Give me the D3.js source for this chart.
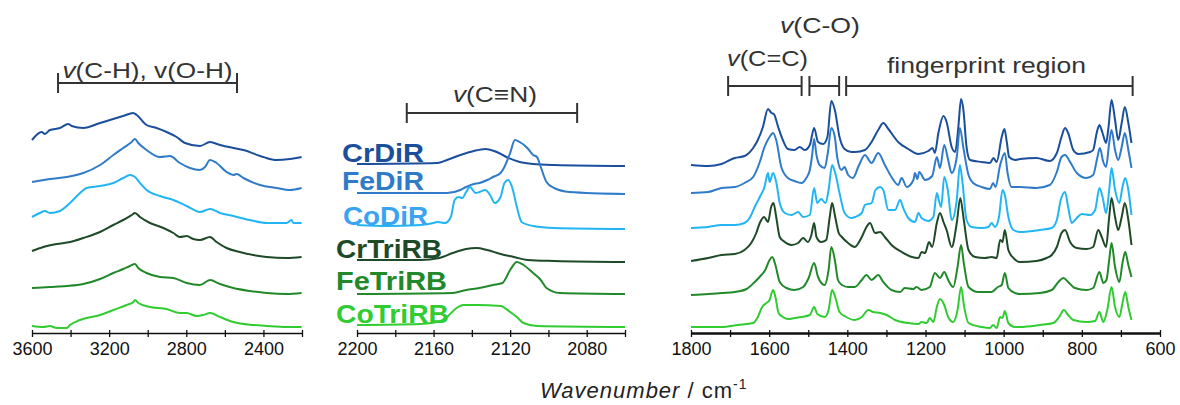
<!DOCTYPE html>
<html>
<head>
<meta charset="utf-8">
<script src="https://d3js.org/d3.v7.min.js"></script>
<style>
    body { margin: 0; background: #fff; }
    svg { font-family: "Liberation Sans", Arial, sans-serif; }
    .trace { fill: none; stroke-width: 2; stroke-linejoin: round; }
    .axis line, .axis path { stroke: #111; }
    .bracket { stroke: #333; stroke-width: 2; fill: none; }
    .note { font-size: 22px; fill: #333; }
    .series-label { font-size: 26px; font-weight: bold; }
</style>
</head>
<body>
<svg width="1180" height="405"></svg>
<script>
    // sample names and line colours (top to bottom)
    const names = ["CrDiR", "FeDiR", "CoDiR", "CrTriRB", "FeTriRB", "CoTriRB"];
    const colors = ["#1b4f9c", "#2f7bc9", "#22b5f4", "#1e4a27", "#22892b", "#31cc31"];

    // x axis ticks per panel
    const ticksOH = [3600, 3400, 3200, 3000, 2800, 2600, 2400, 2200];
    const labelsOH = [3600, 3200, 2800, 2400];
    const ticksCN = [2200, 2180, 2160, 2140, 2120, 2100, 2080, 2060];
    const labelsCN = [2200, 2160, 2120, 2080];
    const ticksFP = [1800, 1700, 1600, 1500, 1400, 1300, 1200, 1100, 1000, 900, 800, 700, 600];
    const labelsFP = [1800, 1600, 1400, 1200, 1000, 800, 600];

    // spectra, [wavenumber, stacked intensity (a.u.)]
    // --- 3600-2200 region
    const ohCrDiR = [[3600,193],[3550,201],[3533,199],[3507,203],[3455,205],[3412,209],[3394,207],[3334,205],[3247,210],[3196,213],[3127,217],[3075,220],[3057,218],[3006,208],[2954,205],[2902,201],[2850,196],[2807,190],[2729,187],[2677,191],[2625,188],[2556,185],[2504,183],[2401,176],[2332,173],[2263,174],[2202,176]];
    const ohFeDiR = [[3600,151],[3507,154],[3420,156],[3334,160],[3247,168],[3178,178],[3127,185],[3083,191],[3066,194],[3049,190],[3006,183],[2936,176],[2885,177],[2833,170],[2781,165],[2729,163],[2703,166],[2677,173],[2643,170],[2591,161],[2556,158],[2539,159],[2504,155],[2418,148],[2332,145],[2263,143],[2202,145]];
    const ohCoDiR = [[3600,116],[3559,120],[3533,122],[3507,120],[3455,122],[3403,130],[3351,140],[3317,145],[3247,147],[3178,150],[3127,155],[3092,158],[3066,156],[3040,150],[3006,143],[2936,137],[2867,133],[2798,127],[2729,121],[2677,124],[2625,120],[2556,117],[2470,113],[2383,110],[2280,110],[2254,113],[2245,110],[2202,110]];
    const ohCrTriRB = [[3600,82],[3541,86],[3472,89],[3403,91],[3334,95],[3247,101],[3178,108],[3127,113],[3083,118],[3066,120],[3040,116],[2988,110],[2919,105],[2867,100],[2833,96],[2798,97],[2764,94],[2729,93],[2677,96],[2643,91],[2591,85],[2522,81],[2453,78],[2383,76],[2280,75],[2202,76]];
    const ohFeTriRB = [[3600,45],[3507,46],[3420,47],[3334,49],[3247,54],[3178,60],[3127,64],[3092,67],[3066,69],[3049,65],[3006,60],[2936,56],[2867,55],[2798,50],[2729,48],[2677,53],[2625,49],[2556,45],[2470,42],[2383,40],[2280,39],[2202,40]];
    const ohCoTriRB = [[3600,7],[3541,6],[3507,7],[3472,5],[3420,5],[3403,8],[3351,13],[3247,18],[3178,23],[3109,28],[3075,31],[3066,33],[3049,30],[2988,26],[2902,24],[2833,20],[2798,20],[2746,17],[2712,18],[2677,20],[2625,16],[2556,11],[2453,8],[2383,7],[2280,6],[2202,6]];

    // --- 2200-2060 region (C≡N)
    const cnCrDiR = [[2200,169],[2158,170],[2153,173],[2146,178],[2139,182],[2133,184],[2127,181],[2122,176],[2115,171],[2108,169],[2097,168],[2060,167]];
    const cnFeDiR = [[2200,140],[2167,140],[2153,140],[2146,143],[2143,146],[2139,149],[2136,150],[2132,153],[2129,156],[2125,160],[2123,166],[2120,180],[2117.5,193],[2115,191],[2111,185],[2108,178],[2106,176],[2104,166],[2101,151],[2097,145],[2089,141],[2060,139]];
    const cnCoDiR = [[2200,108],[2184,107],[2167,108],[2160,110],[2158,111],[2154,110],[2151,116],[2149,133],[2147,136],[2145,135],[2143,141],[2141,146],[2138,140],[2136,141],[2133,143],[2130.5,138],[2128,130],[2125,136],[2123,150],[2121,153],[2119,146],[2116.5,126],[2114,111],[2108,107],[2097,105],[2060,104]];
    const cnCrTriRB = [[2200,73],[2167,73],[2157,75],[2150,80],[2143,84],[2137.5,85],[2132,83],[2125,79],[2118,76],[2111,73],[2097,72],[2060,71]];
    const cnFeTriRB = [[2200,39],[2150,40],[2143,43],[2136,45],[2129,48],[2124,50],[2120,63],[2116.5,71],[2113,68],[2108,60],[2104,53],[2101,45],[2094,40],[2060,39]];
    const cnCoTriRB = [[2200,8],[2167,9],[2158,11],[2153,16],[2148,25],[2144.5,28],[2137.5,28],[2125,27],[2120,21],[2116.5,16],[2113,10],[2106,7],[2060,6]];

    // --- 1800-670 region
    const fpCrDiR = [[1800,168],[1756,167],[1722,169],[1688,175],[1663,177],[1641,185],[1629,193],[1616,206],[1603,224],[1594,220],[1588,219],[1577,206],[1565,193],[1552,184],[1535,183],[1522,186],[1509,183],[1496,188],[1485,205],[1475,191],[1462,189],[1451,196],[1441,232],[1432,223],[1420,196],[1407,184],[1390,181],[1380,181],[1355,183],[1338,191],[1321,203],[1308,210],[1295,204],[1270,191],[1244,184],[1218,179],[1193,182],[1182,185],[1176,180],[1167,200],[1154,217],[1146,211],[1133,186],[1124,181],[1116,206],[1109,234],[1103,223],[1095,186],[1086,173],[1056,171],[1035,170],[1026,175],[1018,171],[1005,196],[998,204],[992,191],[986,176],[971,173],[958,174],[916,175],[882,172],[864,180],[852,196],[843,205],[835,200],[822,183],[809,179],[779,181],[771,183],[762,200],[755,208],[747,200],[738,190],[732,205],[724,233],[715,213],[707,193],[698,210],[690,226],[681,210],[673,190]];
    const fpFeDiR = [[1800,140],[1756,141],[1722,145],[1688,146],[1663,150],[1641,156],[1624,171],[1612,186],[1599,196],[1590,200],[1582,193],[1569,166],[1552,155],[1535,152],[1518,150],[1505,155],[1496,163],[1490,178],[1485,194],[1479,178],[1471,168],[1458,165],[1450,180],[1441,205],[1432,196],[1426,176],[1415,163],[1407,166],[1398,158],[1386,155],[1370,168],[1355,178],[1338,170],[1321,180],[1304,168],[1287,156],[1270,148],[1261,155],[1248,146],[1231,153],[1227,160],[1221,154],[1216,161],[1201,153],[1183,157],[1171,176],[1163,165],[1152,188],[1142,173],[1133,160],[1120,176],[1112,205],[1103,185],[1090,158],[1078,150],[1056,146],[1035,144],[1027,150],[1021,146],[1009,168],[997,180],[990,160],[980,146],[958,146],[916,145],[882,148],[864,161],[852,176],[843,178],[830,171],[813,160],[788,155],[771,158],[760,176],[754,185],[745,171],[738,166],[730,190],[724,203],[715,183],[707,173],[698,186],[690,200],[681,183],[673,165]];
    const fpCoDiR = [[1800,105],[1756,106],[1722,108],[1688,108],[1663,110],[1650,115],[1637,126],[1624,136],[1612,146],[1603,160],[1599,151],[1590,160],[1582,151],[1573,130],[1560,120],[1543,118],[1526,121],[1513,116],[1496,118],[1485,145],[1477,130],[1467,134],[1456,130],[1448,143],[1439,168],[1431,160],[1420,140],[1407,120],[1390,115],[1380,116],[1363,120],[1355,128],[1338,130],[1328,143],[1316,146],[1308,143],[1295,123],[1278,123],[1265,133],[1257,125],[1244,115],[1227,111],[1218,120],[1210,115],[1193,112],[1180,116],[1171,140],[1166,133],[1160,126],[1152,156],[1143,143],[1133,113],[1120,133],[1112,168],[1106,153],[1095,113],[1082,106],[1056,105],[1039,106],[1031,110],[1022,106],[1012,116],[1003,143],[997,138],[988,116],[975,103],[958,101],[907,103],[877,105],[864,113],[854,133],[843,141],[835,126],[826,110],[813,115],[800,119],[779,118],[766,123],[755,145],[747,136],[738,120],[730,143],[724,165],[715,143],[704,130],[696,146],[689,155],[681,143],[673,118]];
    const fpCrTriRB = [[1800,72],[1756,75],[1722,78],[1688,79],[1663,83],[1646,90],[1633,100],[1624,110],[1613,116],[1603,111],[1595,126],[1589,130],[1582,116],[1573,96],[1560,91],[1543,88],[1526,90],[1513,95],[1501,91],[1492,98],[1485,110],[1479,96],[1467,91],[1454,93],[1445,116],[1439,130],[1431,116],[1422,100],[1414,96],[1398,90],[1381,86],[1363,96],[1351,106],[1342,110],[1329,100],[1316,101],[1304,96],[1287,88],[1261,81],[1235,76],[1218,75],[1210,81],[1201,80],[1191,91],[1183,86],[1171,110],[1163,120],[1154,111],[1146,103],[1133,86],[1120,110],[1111,135],[1102,113],[1090,83],[1073,76],[1048,75],[1031,76],[1018,75],[1009,93],[1003,91],[997,103],[988,83],[975,75],[958,71],[916,72],[890,75],[877,78],[864,86],[852,100],[843,103],[830,91],[813,85],[788,84],[771,86],[758,103],[749,96],[738,86],[730,116],[724,135],[715,116],[707,103],[698,116],[690,130],[681,113],[673,88]];
    const fpFeTriRB = [[1800,38],[1756,39],[1722,40],[1688,41],[1658,44],[1637,51],[1620,58],[1610,63],[1599,73],[1592,76],[1584,68],[1573,51],[1556,45],[1535,43],[1513,46],[1499,55],[1485,70],[1475,56],[1458,48],[1448,63],[1441,86],[1432,73],[1424,53],[1414,48],[1398,46],[1381,46],[1363,53],[1351,58],[1338,53],[1321,58],[1308,51],[1287,43],[1265,41],[1253,45],[1231,44],[1223,46],[1210,43],[1189,46],[1176,60],[1163,55],[1152,61],[1142,53],[1129,46],[1118,66],[1109,88],[1102,70],[1090,46],[1065,41],[1031,41],[1015,46],[1005,48],[997,60],[988,45],[971,40],[958,39],[907,40],[877,43],[860,51],[847,55],[835,51],[818,45],[788,43],[771,45],[755,61],[745,50],[737,53],[730,73],[724,90],[715,66],[704,51],[696,70],[689,81],[681,68],[673,56]];
    const fpCoTriRB = [[1800,6],[1756,6],[1722,6],[1680,8],[1641,10],[1629,16],[1618,26],[1607,30],[1599,33],[1590,43],[1584,36],[1576,20],[1565,16],[1552,14],[1535,15],[1518,16],[1496,18],[1485,26],[1477,19],[1458,16],[1448,23],[1439,43],[1431,36],[1420,21],[1403,16],[1381,13],[1363,16],[1346,23],[1334,21],[1316,20],[1299,18],[1278,13],[1244,10],[1218,9],[1210,11],[1197,10],[1189,15],[1180,11],[1171,26],[1163,34],[1152,28],[1142,16],[1129,11],[1118,23],[1109,46],[1101,26],[1090,10],[1056,6],[1035,5],[1027,8],[1018,5],[1009,16],[1003,15],[997,22],[988,10],[971,6],[958,6],[907,8],[873,10],[858,16],[846,23],[835,18],[822,13],[788,11],[766,12],[755,21],[745,11],[735,23],[724,46],[715,26],[704,16],[696,30],[689,41],[681,26],[673,13]];

    const ohSeries = [ohCrDiR, ohFeDiR, ohCoDiR, ohCrTriRB, ohFeTriRB, ohCoTriRB];
    const cnSeries = [cnCrDiR, cnFeDiR, cnCoDiR, cnCrTriRB, cnFeTriRB, cnCoTriRB];
    const fpSeries = [fpCrDiR, fpFeDiR, fpCoDiR, fpCrTriRB, fpFeTriRB, fpCoTriRB];

    // band assignment brackets, [from, to] in cm-1
    const bandOH = [3465, 2537];
    const bandCN = [2174, 2085];
    const bandCC = [1705, 1517];
    const bandCO = [1497, 1421];
    const bandFP = [1403, 670];

    const svg = d3.select("svg");
    const axisY = 333;

    const xOH = d3.scaleLinear().domain([3600, 2200]).range([32, 302]);
    const xCN = d3.scaleLinear().domain([2200, 2060]).range([357, 625]);
    const xFP = d3.scaleLinear().domain([1800, 600]).range([691, 1160]);
    const y = d3.scaleLinear().domain([0, 250]).range([axisY, 83]);

    function drawPanel(x, series, ticks, labels, axisWidth) {
        const line = d3.line()
            .x(d => x(d[0]))
            .y(d => y(d[1]))
            .curve(d3.curveMonotoneX);

        svg.append("g").selectAll("path")
            .data(series)
            .join("path")
            .attr("class", "trace")
            .attr("stroke", (d, i) => colors[i])
            .attr("d", line);

        const axis = d3.axisBottom(x)
            .tickValues(ticks)
            .tickFormat(d => labels.includes(d) ? d : "")
            .tickSizeInner(4)
            .tickSizeOuter(0)
            .tickPadding(5);

        const g = svg.append("g")
            .attr("class", "axis")
            .attr("transform", `translate(0,${axisY})`)
            .call(axis);
        g.select(".domain").attr("stroke-width", axisWidth);
        g.selectAll(".tick line").attr("stroke-width", 1.3).attr("y1", -3);
        g.selectAll(".tick text")
            .style("font-size", "18px")
            .style("font-family", "'Liberation Sans', Arial, sans-serif")
            .style("fill", "#111");
    }

    drawPanel(xOH, ohSeries, ticksOH, labelsOH, 1.5);
    drawPanel(xCN, cnSeries, ticksCN, labelsCN, 1.5);
    drawPanel(xFP, fpSeries, ticksFP, labelsFP, 2.5);

    // brackets
    function bracket(x, band, yy) {
        const g = svg.append("g").attr("class", "bracket");
        const x0 = x(band[0]), x1 = x(band[1]);
        g.append("line").attr("x1", x0).attr("x2", x1).attr("y1", yy).attr("y2", yy);
        g.append("line").attr("x1", x0).attr("x2", x0).attr("y1", yy - 10).attr("y2", yy + 10);
        g.append("line").attr("x1", x1).attr("x2", x1).attr("y1", yy - 10).attr("y2", yy + 10);
    }
    bracket(xOH, bandOH, 83);
    bracket(xCN, bandCN, 113);
    bracket(xFP, bandCC, 86);
    bracket(xFP, bandCO, 86);
    bracket(xFP, bandFP, 86);

    function note(xc, yb, len, parts, anchor) {
        const t = svg.append("text")
            .attr("class", "note")
            .attr("x", xc).attr("y", yb)
            .attr("text-anchor", anchor || "middle")
            .attr("textLength", len)
            .attr("lengthAdjust", "spacingAndGlyphs");
        parts.forEach(p => {
            t.append("tspan").attr("font-style", p[1] ? "italic" : "normal").text(p[0]);
        });
    }
    note((xOH(bandOH[0]) + xOH(bandOH[1])) / 2, 78, 170, [["v", true], ["(C-H), v(O-H)", false]]);
    note((xCN(bandCN[0]) + xCN(bandCN[1])) / 2 + 3, 102, 84, [["v", true], ["(C\u2261N)", false]]);
    note(727, 66, 81, [["v", true], ["(C=C)", false]], "start");
    note(780, 33, 80, [["v", true], ["(C-O)", false]], "start");
    note(887, 73, 199, [["fingerprint region", false]], "start");

    // sample labels in the middle panel
    const labelBase = [162, 190, 225, 258, 290, 323];
    const labelX = [342, 342, 343, 336, 336, 336];
    const labelLen = [82, 82, 85, 106, 111, 113];
    svg.append("g").selectAll("text")
        .data(names)
        .join("text")
        .attr("class", "series-label")
        .attr("x", (d, i) => labelX[i])
        .attr("y", (d, i) => labelBase[i])
        .attr("fill", (d, i) => i === 2 ? "#3aa3f2" : colors[i])
        .attr("textLength", (d, i) => labelLen[i])
        .attr("lengthAdjust", "spacingAndGlyphs")
        .text(d => d);

    // x axis title
    const title = svg.append("text")
        .attr("x", 540).attr("y", 398)
        .attr("font-size", 22)
        .attr("fill", "#222")
        .attr("letter-spacing", 1);
    title.append("tspan").attr("font-style", "italic").text("Wavenumber");
    title.append("tspan").text(" / cm");
    title.append("tspan").attr("font-size", 14).attr("dy", -9).text("-1");
</script>
</body>
</html>
